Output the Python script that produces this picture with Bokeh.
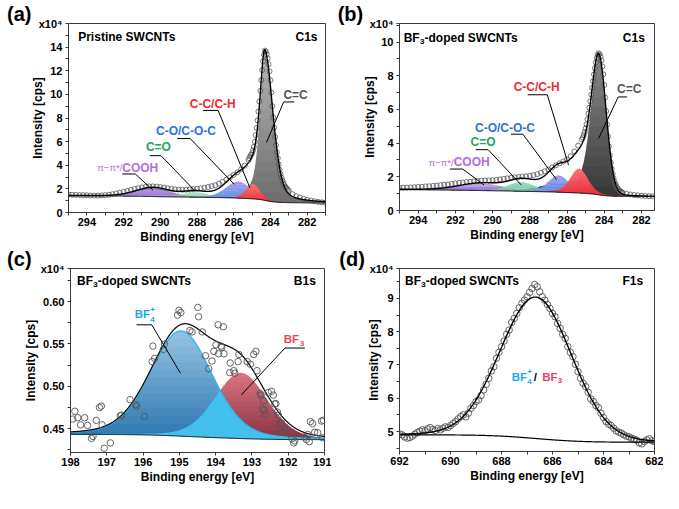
import numpy as np
from bokeh.plotting import figure
from bokeh.layouts import column, row
from bokeh.models import Range1d, Label, FixedTicker, PrintfTickFormatter, Title
from bokeh.embed import file_html
from bokeh.resources import INLINE

FONT = "Liberation Sans"

# ------------------------------------------------------------------ data
# C1s spectra (binding energy in eV, intensity in 1e4 cps)
c1s_be = [295.0, 294.8, 294.6, 294.4, 294.2, 294.0, 293.8, 293.6, 293.4, 293.2,
          293.0, 292.8, 292.6, 292.4, 292.2, 292.0, 291.8, 291.6, 291.4, 291.2,
          291.0, 290.8, 290.6, 290.4, 290.2, 290.0, 289.8, 289.6, 289.4, 289.2,
          289.0, 288.8, 288.6, 288.4, 288.2, 288.0, 287.8, 287.6, 287.4, 287.2,
          287.0, 286.8, 286.6, 286.4, 286.2, 286.0, 285.8, 285.6, 285.4, 285.2,
          285.15, 285.1, 285.05, 285.0, 284.95, 284.9, 284.85, 284.8, 284.75, 284.7,
          284.65, 284.6, 284.55, 284.5, 284.45, 284.4, 284.35, 284.3, 284.25, 284.2,
          284.15, 284.1, 284.05, 284.0, 283.95, 283.9, 283.85, 283.8, 283.75, 283.7,
          283.65, 283.6, 283.55, 283.5, 283.45, 283.4, 283.35, 283.3, 283.25, 283.2,
          283.15, 283.1, 283.05, 283.0, 282.8, 282.6, 282.4, 282.2, 282.0, 281.8,
          281.6, 281.4, 281.2, 281.0]
a_int = [1.52, 1.50, 1.49, 1.48, 1.47, 1.46, 1.44, 1.43, 1.43, 1.45,
         1.47, 1.50, 1.55, 1.61, 1.68, 1.75, 1.83, 1.91, 1.99, 2.06,
         2.12, 2.17, 2.20, 2.21, 2.19, 2.15, 2.10, 2.05, 2.00, 1.96,
         1.94, 1.93, 1.93, 1.95, 1.98, 2.01, 2.05, 2.10, 2.16, 2.23,
         2.31, 2.44, 2.60, 2.78, 2.98, 3.18, 3.40, 3.66, 3.96, 4.45,
         4.60, 4.75, 4.88, 5.02, 5.25, 5.55, 5.98, 6.55, 7.15, 7.80,
         8.55, 9.40, 10.30, 11.20, 12.05, 12.80, 13.35, 13.70, 13.62, 13.40,
         13.05, 12.55, 11.95, 11.20, 10.15, 9.00, 8.05, 7.20, 6.40, 5.70,
         5.10, 4.60, 4.08, 3.62, 3.25, 2.95, 2.70, 2.50, 2.34, 2.20,
         2.09, 2.00, 1.91, 1.83, 1.55, 1.38, 1.26, 1.16, 1.08, 1.01,
         0.95, 0.90, 0.86, 0.82]
b_int = [1.34, 1.35, 1.36, 1.37, 1.38, 1.40, 1.41, 1.43, 1.44, 1.46,
         1.48, 1.50, 1.53, 1.55, 1.58, 1.61, 1.64, 1.66, 1.69, 1.71,
         1.73, 1.75, 1.77, 1.78, 1.79, 1.80, 1.82, 1.85, 1.88, 1.91,
         1.94, 1.97, 1.99, 2.01, 2.03, 2.06, 2.10, 2.16, 2.24, 2.33,
         2.43, 2.55, 2.68, 2.80, 2.91, 3.03, 3.22, 3.50, 3.85, 4.22,
         4.33, 4.48, 4.65, 4.86, 5.12, 5.42, 5.75, 6.10, 6.48, 6.88,
         7.28, 7.68, 8.08, 8.45, 8.78, 9.05, 9.24, 9.33, 9.28, 9.14,
         8.90, 8.55, 8.08, 7.45, 6.70, 5.90, 5.10, 4.40, 3.80, 3.28,
         2.85, 2.48, 2.18, 1.93, 1.72, 1.56, 1.44, 1.34, 1.26, 1.20,
         1.15, 1.11, 1.07, 1.05, 0.99, 0.95, 0.92, 0.90, 0.88, 0.86,
         0.85, 0.84, 0.83, 0.82]

# C1s fit components: C=C, C-C/C-H, C-O/C-O-C, C=O, pi-pi*/COOH
c1s_names = ["C=C", "C-C/C-H", "C-O/C-O-C", "C=O", "π−π*/COOH"]
a_center = [284.30, 284.95, 285.75, 288.10, 290.40]
a_height = [12.1, 1.25, 1.40, 0.42, 0.75]
a_fwhm_hi = [0.65, 0.90, 1.60, 1.60, 2.20]
a_fwhm_lo = [1.05, 0.90, 1.60, 1.60, 2.20]
a_eta_hi = [0.50, 0.30, 0.20, 0.20, 0.20]
a_eta_lo = [0.35, 0.30, 0.20, 0.20, 0.20]
a_tail = [285.6, 0.35, 2.2]        # C=C asymmetry tail: center, height, fwhm
a_bg = [0.80, 0.01, 0.48]          # background: low end, slope, Shirley step

b_center = [284.30, 285.35, 286.45, 288.45, 290.60]
b_height = [8.15, 1.45, 1.00, 0.55, 0.42]
b_fwhm_hi = [1.00, 1.10, 1.30, 1.70, 2.80]
b_fwhm_lo = [0.95, 1.10, 1.30, 1.70, 2.80]
b_eta_hi = [0.40, 0.30, 0.20, 0.20, 0.20]
b_eta_lo = [0.05, 0.30, 0.20, 0.20, 0.20]
b_tail = [286.5, 0.35, 2.4]
b_bg = [0.82, 0.01, 0.28]

# B1s (intensity in 1e4 cps)
c_be = [197.94, 197.88, 197.80, 197.72, 197.61, 197.53, 197.42, 197.38, 197.29, 197.20,
        197.15, 197.13, 197.07, 196.90, 196.63, 196.59, 196.36, 196.21, 196.18, 195.96,
        195.75, 195.73, 195.68, 195.44, 195.41, 195.05, 195.01, 194.96, 194.71, 194.65,
        194.49, 194.47, 194.37, 194.28, 194.19, 194.10, 194.05, 193.99, 193.93, 193.92,
        193.85, 193.83, 193.79, 193.77, 193.61, 193.60, 193.50, 193.47, 193.38, 193.36,
        193.13, 193.04, 192.95, 192.89, 192.86, 192.77, 192.75, 192.71, 192.68, 192.66,
        192.63, 192.55, 192.46, 192.41, 192.37, 192.34, 192.30, 192.27, 192.21, 192.19,
        192.16, 192.10, 191.96, 191.90, 191.85, 191.82, 191.56, 191.50, 191.46, 191.42,
        191.39, 191.33, 191.27, 191.19, 191.08, 191.05, 191.03]
c_int = [0.4614, 0.4706, 0.4630, 0.4546, 0.4630, 0.4539, 0.4386, 0.4410, 0.4599, 0.4751,
         0.4767, 0.4546, 0.4270, 0.4333, 0.4653, 0.4660, 0.4843, 0.4785, 0.4767, 0.4645,
         0.5292, 0.5475, 0.5330, 0.5436, 0.5498, 0.5840, 0.5897, 0.5870, 0.5658, 0.5642,
         0.5931, 0.5821, 0.5642, 0.5361, 0.5208, 0.5299, 0.5413, 0.5490, 0.5726, 0.5384,
         0.5475, 0.5460, 0.5703, 0.5384, 0.5162, 0.5276, 0.5185, 0.5155, 0.5292, 0.5376,
         0.5292, 0.5261, 0.5376, 0.5413, 0.5185, 0.4915, 0.4896, 0.4736, 0.4828, 0.4717,
         0.4668, 0.4927, 0.4942, 0.4896, 0.4793, 0.4797, 0.4698, 0.4660, 0.4565, 0.4569,
         0.4470, 0.4508, 0.4440, 0.4382, 0.4333, 0.4356, 0.4402, 0.4374, 0.4432, 0.4348,
         0.4584, 0.4562, 0.4459, 0.4454, 0.4591, 0.4394, 0.4600]
# B1s components: BF4+, BF3
c_center = [194.95, 193.30]
c_height = [0.124, 0.0775]
c_fwhm = [2.0, 1.7]
c_eta = [0.2, 0.2]
c_bg = [0.4372, 0.0, 0.0061]

# F1s (intensity in 1e4 cps)
d_be = [692.0, 691.9, 691.8, 691.7, 691.6, 691.5, 691.4, 691.3, 691.2, 691.1,
        691.0, 690.9, 690.8, 690.7, 690.6, 690.5, 690.4, 690.3, 690.2, 690.1,
        690.0, 689.9, 689.8, 689.7, 689.6, 689.5, 689.4, 689.3, 689.2, 689.1,
        689.0, 688.9, 688.8, 688.7, 688.6, 688.5, 688.4, 688.3, 688.2, 688.1,
        688.0, 687.9, 687.8, 687.7, 687.6, 687.5, 687.4, 687.3, 687.2, 687.1,
        687.0, 686.9, 686.8, 686.7, 686.6, 686.5, 686.4, 686.3, 686.2, 686.1,
        686.0, 685.9, 685.8, 685.7, 685.6, 685.5, 685.4, 685.3, 685.2, 685.1,
        685.0, 684.9, 684.8, 684.7, 684.6, 684.5, 684.4, 684.3, 684.2, 684.1,
        684.0, 683.9, 683.8, 683.7, 683.6, 683.5, 683.4, 683.3, 683.2, 683.1,
        683.0, 682.9, 682.8, 682.7, 682.6, 682.5, 682.4, 682.3, 682.2, 682.1,
        682.0]
d_int = [4.93, 4.90, 4.84, 4.80, 4.82, 4.86, 4.92, 4.97, 5.01, 5.05,
         5.02, 5.08, 5.12, 5.06, 5.03, 5.09, 5.05, 5.10, 5.14, 5.12,
         5.18, 5.24, 5.30, 5.38, 5.45, 5.50, 5.44, 5.55, 5.70, 5.78,
         5.90, 5.95, 6.08, 6.25, 6.42, 6.60, 6.82, 6.95, 7.20, 7.38,
         7.55, 7.72, 7.92, 8.05, 8.28, 8.40, 8.55, 8.72, 8.85, 8.95,
         9.05, 9.18, 9.30, 9.42, 9.35, 9.20, 9.05, 8.95, 8.82, 8.70,
         8.55, 8.45, 8.25, 8.10, 7.92, 7.80, 7.55, 7.38, 7.25, 7.02,
         6.80, 6.60, 6.45, 6.35, 6.18, 5.98, 5.90, 5.78, 5.72, 5.55,
         5.42, 5.30, 5.22, 5.18, 5.10, 5.02, 4.98, 4.95, 4.90, 4.86,
         4.84, 4.80, 4.77, 4.74, 4.66, 4.63, 4.70, 4.75, 4.78, 4.72,
         4.70]
d_center = 686.65
d_height = 4.25
d_fwhm = 3.3
d_eta = 0.05
d_bg = [4.68, 0.0, 0.22]

# tick values
a_yticks = [0, 2, 4, 6, 8, 10, 12, 14]
b_yticks = [0, 2, 4, 6, 8, 10]
c1s_xticks = [294, 292, 290, 288, 286, 284, 282]
c_xticks = [198, 197, 196, 195, 194, 193, 192, 191]
c_yticks = [0.45, 0.50, 0.55, 0.60]
d_xticks = [692, 690, 688, 686, 684, 682]
d_yticks = [5, 6, 7, 8, 9]
SCALE_TXT = "x10⁴"

# label anchor points (data coords) and leader lines
a_lbl = {"C=C": (282.63, 9.97), "C-C/C-H": (287.14, 9.21), "C-O/C-O-C": (288.60, 6.89), "C=O": (290.10, 5.52)}
a_pi_anchor = (292.07, 3.80)
a_leaders = [([282.70, 283.28, 284.21], [9.36, 9.36, 5.93]),
             ([287.67, 286.85, 285.12], [8.64, 8.64, 2.10]),
             ([289.08, 288.37, 285.97], [6.26, 6.26, 2.38]),
             ([290.57, 289.96, 288.11], [4.81, 4.81, 1.83]),
             ([292.07, 291.36, 290.40], [3.26, 3.26, 1.89])]
b_lbl = {"C=C": (282.66, 7.22), "C-C/C-H": (287.63, 7.31), "C-O/C-O-C": (289.33, 4.91), "C=O": (290.51, 4.05)}
b_pi_anchor = (292.09, 2.86)
b_leaders = [([282.78, 283.25, 284.30], [6.74, 6.74, 4.28]),
             ([288.11, 287.06, 285.92], [6.87, 6.87, 2.71]),
             ([289.01, 288.37, 286.57], [4.53, 4.53, 1.84]),
             ([290.90, 290.24, 288.46], [3.61, 3.61, 1.52]),
             ([292.29, 291.60, 290.46], [2.46, 2.46, 1.52])]
c_bf4_anchor = (196.02, 0.5848)
c_bf3_anchor = (191.91, 0.5562)
c_leaders = [([196.18, 195.76, 194.97], [0.5726, 0.5726, 0.5155]),
             ([191.54, 192.09, 193.29], [0.5452, 0.5452, 0.4900])]
d_lbl_anchor = (687.30, 6.65)

# colours (top colour, bottom colour of each gradient fill)
C_TXT = ["#555555", "#ee2a32", "#2d6fdd", "#22a85a", "#b56ae6"]
a_grad = [("#b4b4b4", "#6c6c6c"), ("#ff7474", "#ec2a32"), ("#a59ae8", "#4f97f2"),
          ("#a2dcba", "#4dbd80"), ("#bb9de6", "#8257c8")]
b_grad = [("#8a8a8a", "#363636"), ("#ff6f78", "#ec2a34"), ("#a39be8", "#4f93f0"),
          ("#a6dcc4", "#4fbf90"), ("#b69be4", "#7d55c6")]
c_bf4_grad = ("#97c3e4", "#2a76b0")
c_bf3_grad = ("#dc7482", "#8a3243")
c_overlap = "#43c0ee"
CYAN = "#1ea8e6"
PINK = "#e24760"


# ------------------------------------------------------------------ model helpers
def pv(E, c, h, w_hi, w_lo, eta_hi, eta_lo):
    d = E - c
    hw = np.where(d >= 0, w_hi, w_lo) / 2.0
    eta = np.where(d >= 0, eta_hi, eta_lo)
    u = (d / hw) ** 2
    return h * ((1 - eta) * np.exp(-np.log(2) * u) + eta / (1 + u))


def gauss(E, c, h, w):
    return h * np.exp(-4 * np.log(2) * ((E - c) / w) ** 2)


def background(E, total, b0, b1, s):
    cum = np.cumsum(total)
    return b0 + b1 * (E - E[0]) + s * cum / cum[-1]


def mix(c_top, c_bot, t):
    a = [int(c_bot[i:i + 2], 16) for i in (1, 3, 5)]
    b = [int(c_top[i:i + 2], 16) for i in (1, 3, 5)]
    return "#" + "".join(f"{int(round(a[k] + (b[k] - a[k]) * t)):02x}" for k in range(3))


def grad_fill(p, E, base, top, colors, lo=None, n=14):
    lo = base.min() if lo is None else lo
    hi = top.max()
    levels = np.linspace(lo, hi, n + 1)
    eps = (hi - lo) * 0.012
    for k in range(n):
        col = mix(colors[0], colors[1], (k + 0.5) / n)
        y1 = np.minimum(np.maximum(base, levels[k]), top)
        y2 = np.minimum(np.maximum(base, levels[k + 1] + eps), top)
        p.varea(x=E, y1=y1, y2=y2, fill_color=col)


def make_fig(xr, yr, fw, fh, bl, br, bt, bb, xt, xm, yt, ym, letter, loff, ylab_standoff):
    p = figure(x_range=Range1d(xr[0], xr[1]), y_range=Range1d(yr[0], yr[1]),
               frame_width=fw, frame_height=fh,
               min_border_left=bl, min_border_right=br, min_border_top=bt, min_border_bottom=bb,
               output_backend="svg", toolbar_location=None, tools="")
    p.grid.visible = False
    p.background_fill_color = "white"
    p.border_fill_color = "white"
    p.outline_line_color = "#3a3a3a"
    p.outline_line_width = 1
    p.xaxis.ticker = FixedTicker(ticks=xt, minor_ticks=xm)
    # the "x10^4" multiplier sits at the top of the intensity axis
    p.yaxis.ticker = FixedTicker(ticks=yt + [yr[1]], minor_ticks=ym)
    p.yaxis.major_label_overrides = {yr[1]: SCALE_TXT}
    for ax in (p.xaxis[0], p.yaxis[0]):
        ax.axis_line_color = "#3a3a3a"
        ax.major_tick_line_color = "#3a3a3a"
        ax.minor_tick_line_color = "#3a3a3a"
        ax.major_tick_in = 0
        ax.major_tick_out = 3
        ax.minor_tick_in = 0
        ax.minor_tick_out = 3
        ax.major_label_text_font = FONT
        ax.major_label_text_font_style = "bold"
        ax.major_label_text_font_size = "11px"
        ax.major_label_text_color = "black"
        ax.axis_label_text_font = FONT
        ax.axis_label_text_font_style = "bold"
        ax.axis_label_text_font_size = "12px"
        ax.axis_label_text_color = "black"
    p.xaxis.major_label_standoff = 2
    p.xaxis.axis_label_standoff = 1
    p.yaxis.major_label_standoff = 3
    p.yaxis.axis_label_standoff = ylab_standoff
    p.xaxis.axis_label = "Binding energy [eV]"
    p.yaxis.axis_label = "Intensity [cps]"
    p.add_layout(Title(text=letter, align="left", offset=loff, standoff=-2,
                       text_font=FONT, text_font_size="20px", text_font_style="bold",
                       text_color="black"), "above")
    return p


def txt(p, x, y, text, size, color="black", align="center", baseline="middle", dx=0, dy=0, bold=True):
    p.add_layout(Label(x=x, y=y, text=text, x_offset=dx, y_offset=dy, text_font=FONT,
                       text_font_size=f"{size}px", text_font_style="bold" if bold else "normal",
                       text_color=color, text_align=align, text_baseline=baseline))


def corner_texts(p, xr, yr, title_parts, tdx, tdy, core, cdx):
    x0, y1 = xr[0], yr[1]
    for t, ox, oy, sz in title_parts:
        txt(p, x0, y1, t, sz, align="left", dx=tdx + ox, dy=tdy + oy)
    txt(p, xr[1], y1, core, 12, align="right", dx=cdx, dy=tdy)


BF3_TITLE = [("BF", 0, 0, 12), ("3", 16.2, -3.8, 8), ("-doped SWCNTs", 20.8, 0, 12)]


def c1s_panel(p, E, comps, bg, grads, be, inten, lbl, pi_anchor, leaders):
    order = [0, 4, 3, 2, 1]
    for i in order:
        grad_fill(p, E, bg, bg + comps[i], grads[i])
    p.line(E, bg, line_color="black", line_width=1)
    p.scatter(be, inten, marker="circle", size=5, fill_color=None, line_color="#555555", line_width=0.8)
    total = bg + sum(comps)
    p.line(E, total, line_color="black", line_width=1.4)
    for xs, ys in leaders:
        p.line(xs, ys, line_color="black", line_width=1)
    for k, name in enumerate(c1s_names[:4]):
        x, y = lbl[name]
        txt(p, x, y, name, 12, color=C_TXT[k])
    txt(p, pi_anchor[0], pi_anchor[1], "π−π*/", 9.5, color=C_TXT[4], align="right", bold=False)
    txt(p, pi_anchor[0], pi_anchor[1], "COOH", 12, color=C_TXT[4], align="left")


# ------------------------------------------------------------------ (a)
xr_a, yr_a = (295, 281), (0, 16)
pa = make_fig(xr_a, yr_a, 257, 189, 68, 6, 23, 34, c1s_xticks, [295, 293, 291, 289, 287, 285, 283, 281],
              a_yticks, [1, 3, 5, 7, 9, 11, 13, 15], "(a)", -61.5, -9)
Ea = np.linspace(281.0, 295.0, 1401)
ca = [pv(Ea, a_center[i], a_height[i], a_fwhm_hi[i], a_fwhm_lo[i], a_eta_hi[i], a_eta_lo[i]) for i in range(5)]
ca[0] = ca[0] + gauss(Ea, *a_tail)
bg_a = background(Ea, sum(ca), *a_bg)
c1s_panel(pa, Ea, ca, bg_a, a_grad, c1s_be, a_int, a_lbl, a_pi_anchor, a_leaders)
corner_texts(pa, xr_a, yr_a, [("Pristine SWCNTs", 0, 0, 12)], 9.7, -13.9, "C1s", -8)

# ------------------------------------------------------------------ (b)
xr_b, yr_b = (295, 281.3), (0, 11.1)
pb = make_fig(xr_b, yr_b, 255, 187, 68, 9, 23, 36, c1s_xticks, [295, 293, 291, 289, 287, 285, 283],
              b_yticks, [1, 3, 5, 7, 9, 11], "(b)", -61.8, -10)
Eb = np.linspace(281.0, 295.0, 1401)
cb = [pv(Eb, b_center[i], b_height[i], b_fwhm_hi[i], b_fwhm_lo[i], b_eta_hi[i], b_eta_lo[i]) for i in range(5)]
cb[0] = cb[0] + gauss(Eb, *b_tail)
bg_b = background(Eb, sum(cb), *b_bg)
c1s_panel(pb, Eb, cb, bg_b, b_grad, c1s_be, b_int, b_lbl, b_pi_anchor, b_leaders)
corner_texts(pb, xr_b, yr_b, BF3_TITLE, 4.2, -14.5, "C1s", -9.7)

# ------------------------------------------------------------------ (c)
xr_c, yr_c = (198, 191), (0.422, 0.639)
pc = make_fig(xr_c, yr_c, 254, 184, 70, 7, 20, 43, c_xticks, [],
              c_yticks, [0.425, 0.475, 0.525, 0.575, 0.625], "(c)", -63.4, 0)
pc.yaxis.formatter = PrintfTickFormatter(format="%.2f")
Ec = np.linspace(191.0, 198.0, 1401)
bf4 = pv(Ec, c_center[0], c_height[0], c_fwhm[0], c_fwhm[0], c_eta[0], c_eta[0])
bf3 = pv(Ec, c_center[1], c_height[1], c_fwhm[1], c_fwhm[1], c_eta[1], c_eta[1])
bg_c = background(Ec, bf4 + bf3, *c_bg)
ovl = np.minimum(bf4, bf3)
grad_fill(pc, Ec, bg_c, bg_c + bf4, c_bf4_grad)
pc.varea(x=Ec, y1=bg_c, y2=bg_c + ovl, fill_color=c_overlap)
grad_fill(pc, Ec, bg_c + ovl, bg_c + bf3, c_bf3_grad, lo=bg_c.min())
pc.line(Ec, bg_c + bf4, line_color="#30b8ec", line_width=1.4)
pc.line(Ec, bg_c, line_color="black", line_width=1)
pc.line(Ec, bg_c + bf4 + bf3, line_color="black", line_width=1.2)
pc.scatter(c_be, c_int, marker="circle", size=6.5, fill_color=None, line_color="#555555", line_width=0.9)
for xs, ys in c_leaders:
    pc.line(xs, ys, line_color="black", line_width=1)
bx, by = c_bf4_anchor
txt(pc, bx, by, "BF", 11.5, CYAN)
txt(pc, bx, by, "+", 8, CYAN, align="left", dx=8.0, dy=5)
txt(pc, bx, by, "4", 8, CYAN, align="left", dx=8.0, dy=-4.8)
bx, by = c_bf3_anchor
txt(pc, bx, by, "BF", 11.5, PINK)
txt(pc, bx, by, "3", 8, PINK, align="left", dx=8.2, dy=-4.3)
corner_texts(pc, xr_c, yr_c, BF3_TITLE, 6.5, -12.3, "B1s", -8.7)

# ------------------------------------------------------------------ (d)
xr_d, yr_d = (692, 682), (4.4, 9.9)
pd = make_fig(xr_d, yr_d, 255, 183, 68, 9, 19, 45, d_xticks, [691, 689, 687, 685, 683],
              d_yticks, [4.5, 5.5, 6.5, 7.5, 8.5, 9.5], "(d)", -60.2, -14)
Ed = np.linspace(682.0, 692.0, 1001)
fpk = pv(Ed, d_center, d_height, d_fwhm, d_fwhm, d_eta, d_eta)
bg_d = background(Ed, fpk, *d_bg)
pd.scatter(d_be, d_int, marker="circle", size=6.5, fill_color=None, line_color="#555555", line_width=0.9)
pd.line(Ed, bg_d, line_color="black", line_width=1.2)
pd.line(Ed, bg_d + fpk, line_color="black", line_width=1.4)
bx, by = d_lbl_anchor
txt(pd, bx, by, "BF", 11.5, CYAN)
txt(pd, bx, by, "+", 8, CYAN, align="left", dx=7.9, dy=5)
txt(pd, bx, by, "4", 8, CYAN, align="left", dx=7.9, dy=-4.5)
txt(pd, bx, by, "/", 11.5, "black", dx=16)
txt(pd, bx, by, "BF", 11.5, PINK, dx=30.5)
txt(pd, bx, by, "3", 8, PINK, align="left", dx=38.5, dy=-4.3)
corner_texts(pd, xr_d, yr_d, BF3_TITLE, 5.5, -12.3, "F1s", -11.3)

layout = column(row(pa, pb), row(pc, pd))
open("out.html", "w").write(file_html(layout, INLINE))
